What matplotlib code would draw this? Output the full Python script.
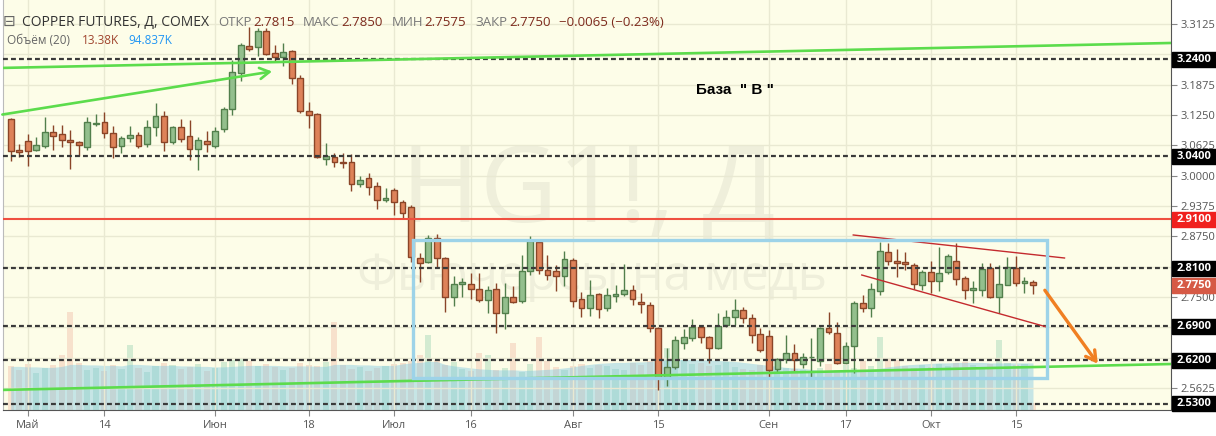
import matplotlib
matplotlib.use('Agg')
import matplotlib.pyplot as plt
from matplotlib.patches import Rectangle
from matplotlib.transforms import blended_transform_factory as btf

plt.rcParams['font.family'] = ['Open Sans', 'DejaVu Sans']

W, H, DPI = 1216, 436, 100

# ---------------- data (daily OHLC, bar index 0 = 27 Apr 2018) ----------------
opens = [3.116, 3.053, 3.071, 3.052, 3.061, 3.091, 3.085, 3.073, 3.069, 3.060,
         3.106, 3.111, 3.087, 3.061, 3.077, 3.083, 3.065, 3.100, 3.122, 3.069,
         3.101, 3.082, 3.055, 3.071, 3.062, 3.097, 3.137, 3.211, 3.267, 3.266,
         3.299, 3.252, 3.244, 3.256, 3.201, 3.134, 3.127, 3.034, 3.038, 3.028,
         3.028, 2.984, 2.995, 2.979, 2.950, 2.971, 2.946, 2.935, 2.830, 2.823,
         2.871, 2.830, 2.751, 2.777, 2.777, 2.766, 2.744, 2.766, 2.718, 2.751,
         2.742, 2.804, 2.864, 2.806, 2.803, 2.794, 2.826, 2.747, 2.727, 2.756,
         2.727, 2.752, 2.756, 2.764, 2.741, 2.733, 2.686, 2.585, 2.607, 2.655,
         2.665, 2.688, 2.667, 2.646, 2.693, 2.709, 2.724, 2.708, 2.675, 2.669,
         2.602, 2.622, 2.635, 2.612, 2.626, 2.619, 2.686, 2.677, 2.615, 2.650,
         2.737, 2.727, 2.763, 2.843, 2.824, 2.823, 2.816, 2.775, 2.801, 2.784,
         2.801, 2.824, 2.789, 2.764, 2.764, 2.810, 2.750, 2.776, 2.809, 2.779,
         2.7815]
highs = [3.119, 3.066, 3.086, 3.079, 3.120, 3.104, 3.105, 3.094, 3.072, 3.120,
         3.127, 3.131, 3.102, 3.082, 3.102, 3.090, 3.114, 3.149, 3.134, 3.103,
         3.117, 3.114, 3.079, 3.092, 3.101, 3.142, 3.238, 3.273, 3.306, 3.304,
         3.304, 3.269, 3.273, 3.258, 3.207, 3.151, 3.129, 3.068, 3.046, 3.046,
         3.044, 2.999, 3.006, 2.988, 2.975, 2.974, 2.950, 2.940, 2.840, 2.878,
         2.881, 2.832, 2.794, 2.789, 2.799, 2.800, 2.773, 2.779, 2.779, 2.773,
         2.836, 2.876, 2.870, 2.836, 2.817, 2.844, 2.830, 2.761, 2.785, 2.759,
         2.768, 2.775, 2.818, 2.775, 2.758, 2.741, 2.689, 2.645, 2.669, 2.684,
         2.706, 2.692, 2.670, 2.717, 2.724, 2.746, 2.729, 2.715, 2.686, 2.682,
         2.624, 2.673, 2.653, 2.634, 2.665, 2.688, 2.720, 2.699, 2.658, 2.742,
         2.754, 2.779, 2.864, 2.862, 2.849, 2.843, 2.821, 2.806, 2.825, 2.854,
         2.839, 2.862, 2.794, 2.783, 2.821, 2.821, 2.816, 2.832, 2.835, 2.792,
         2.785]
lows = [3.031, 3.039, 3.021, 3.051, 3.057, 3.053, 3.060, 3.014, 3.041, 3.054,
        3.103, 3.077, 3.036, 3.046, 3.070, 3.057, 3.060, 3.081, 3.050, 3.066,
        3.069, 3.033, 3.012, 3.048, 3.058, 3.091, 3.125, 3.195, 3.256, 3.247,
        3.249, 3.235, 3.225, 3.189, 3.130, 3.098, 3.036, 3.022, 3.019, 3.016,
        2.969, 2.976, 2.960, 2.932, 2.946, 2.920, 2.910, 2.823, 2.782, 2.820,
        2.813, 2.720, 2.732, 2.751, 2.747, 2.739, 2.718, 2.676, 2.685, 2.737,
        2.737, 2.795, 2.797, 2.785, 2.762, 2.772, 2.729, 2.710, 2.711, 2.708,
        2.721, 2.739, 2.752, 2.734, 2.717, 2.679, 2.559, 2.566, 2.603, 2.643,
        2.659, 2.655, 2.615, 2.643, 2.688, 2.693, 2.697, 2.656, 2.638, 2.586,
        2.593, 2.614, 2.596, 2.605, 2.586, 2.608, 2.675, 2.612, 2.614, 2.594,
        2.720, 2.710, 2.754, 2.816, 2.791, 2.806, 2.766, 2.764, 2.758, 2.762,
        2.797, 2.775, 2.746, 2.737, 2.752, 2.748, 2.718, 2.775, 2.772, 2.759,
        2.7575]
closes = [3.051, 3.048, 3.050, 3.064, 3.091, 3.081, 3.073, 3.069, 3.063, 3.110,
          3.108, 3.087, 3.059, 3.078, 3.083, 3.061, 3.100, 3.122, 3.069, 3.100,
          3.076, 3.055, 3.074, 3.065, 3.092, 3.137, 3.213, 3.269, 3.262, 3.299,
          3.251, 3.244, 3.254, 3.201, 3.134, 3.125, 3.039, 3.040, 3.028, 3.027,
          2.984, 2.992, 2.976, 2.950, 2.954, 2.946, 2.924, 2.833, 2.820, 2.871,
          2.830, 2.751, 2.777, 2.781, 2.767, 2.744, 2.765, 2.717, 2.751, 2.741,
          2.803, 2.866, 2.805, 2.796, 2.794, 2.828, 2.743, 2.727, 2.754, 2.725,
          2.754, 2.756, 2.765, 2.746, 2.736, 2.686, 2.585, 2.607, 2.662, 2.667,
          2.688, 2.667, 2.645, 2.691, 2.709, 2.724, 2.707, 2.673, 2.642, 2.600,
          2.622, 2.636, 2.620, 2.627, 2.627, 2.686, 2.678, 2.614, 2.650, 2.737,
          2.728, 2.766, 2.844, 2.825, 2.821, 2.818, 2.777, 2.802, 2.784, 2.800,
          2.835, 2.787, 2.764, 2.768, 2.808, 2.750, 2.777, 2.812, 2.779, 2.784,
          2.775]
volumes = [88, 80, 92, 75, 85, 90, 110, 198, 95, 80,
           85, 78, 90, 82, 131, 84, 76, 88, 95, 90,
           82, 86, 92, 78, 84, 96, 100, 105, 98, 88,
           92, 86, 80, 84, 95, 90, 88, 96, 178, 90,
           82, 86, 78, 84, 88, 92, 95, 98, 110, 152,
           100, 90, 96, 82, 78, 115, 110, 80, 84, 135,
           76, 92, 147, 98, 86, 80, 88, 92, 85, 90,
           88, 82, 80, 95, 90, 98, 112, 125, 110, 100,
           92, 95, 88, 90, 96, 86, 82, 80, 90, 95,
           100, 85, 82, 80, 78, 84, 92, 80, 90, 85,
           98, 88, 147, 105, 101, 88, 84, 90, 86, 92,
           88, 94, 96, 90, 84, 92, 141, 95, 90, 92,
           13.38]
volume_ma = [88, 88, 87, 87, 86, 86, 88, 92, 92, 91, 91, 90, 90, 89, 92, 92, 91, 90, 90, 90,
             89, 89, 88, 88, 87, 87, 88, 89, 90, 90, 90, 90, 89, 89, 89, 89, 88, 88, 92, 92,
             92, 91, 91, 90, 90, 90,
             93, 95, 96, 98, 98,
             92, 89, 87, 85, 83, 82, 81, 81,
             81, 80, 80, 81, 82, 83, 85, 87,
             90, 92, 94, 95, 96, 96, 97, 97, 98,
             100, 101, 102, 102, 102, 101, 101, 100, 99, 98,
             96, 94, 92, 90, 88, 86, 85, 84, 82,
             80, 79, 78, 78, 79, 80,
             82, 84, 87, 89, 91, 92, 93, 94, 95, 95, 96, 96, 96, 96, 95, 95, 95, 95, 95, 94.837]

tick_pos = [2, 11, 24, 35, 45, 54, 66, 76, 89, 98, 108, 118]
tick_labels = ['Май', '14', 'Июн', '18', 'Июл', '16', 'Авг', '15', 'Сен', '17', 'Окт', '15']
price_ticks = [2.5625, 2.625, 2.6875, 2.75, 2.8125, 2.875, 2.9375, 3.0, 3.0625, 3.125, 3.1875, 3.25, 3.3125]
level_lines = [3.24, 3.04, 2.81, 2.69, 2.62, 2.53]
red_level = 2.91
last_price = 2.775

# drawings (bar index, price)
green_line_top = [(-1.3, 3.2219), (136.2, 3.2734)]
green_arrow = [(-1.3, 3.1251), (31.0, 3.2157)]
green_line_bottom = [(-1.3, 2.5588), (136.2, 2.6123)]
wedge_upper = [(98.9, 2.8780), (123.7, 2.8306)]
wedge_lower = [(99.9, 2.7956), (121.6, 2.6886)]
orange_arrow = [(121.2, 2.7688), (127.8, 2.6082)]
base_box = (47.25, 121.7, 2.5835, 2.8677)

# ---------------- figure ----------------
fig = plt.figure(figsize=(W / DPI, H / DPI), dpi=DPI)
fig.patch.set_facecolor('white')
Lp, Rp, Tp, Bp = 3, 1171, 0, 410
rect = [Lp / W, 1 - Bp / H, (Rp - Lp) / W, (Bp - Tp) / H]
XLIM = (-0.904, 136.2)
YLIM = (2.5176, 3.3619)
BG = '#fdfde8'

axv = fig.add_axes(rect, zorder=0)
axv.set_facecolor(BG)
axv.set_xlim(XLIM)
axv.set_ylim(0, 827)
axv.set_xticks([])
axv.set_yticks([])
for s in axv.spines.values():
    s.set_visible(False)

idx = list(range(len(opens)))
vcol = ['#8fd0ad' if c >= o else '#eeb5a0' for o, c in zip(opens, closes)]
axv.bar(idx, volumes, width=0.72, color=vcol, alpha=0.38, zorder=2, linewidth=0)
axv.fill_between(idx, 0, volume_ma, color='#7cc6e2', alpha=0.42, lw=0, zorder=3)

axv.text(588 / W, 1 - 222 / H, 'HG1!, Д', transform=fig.transFigure, ha='center',
         va='baseline', fontsize=77, color='black', alpha=0.055, zorder=1)
axv.text(592 / W, 1 - 290 / H, 'Фьючерсы на медь', transform=fig.transFigure, ha='center',
         va='baseline', fontsize=36, color='black', alpha=0.055, zorder=1)

ax = fig.add_axes(rect, zorder=1)
ax.set_facecolor('none')
ax.set_xlim(XLIM)
ax.set_ylim(YLIM)

for t in tick_pos:
    ax.axvline(t, color='#e9e9d2', lw=1, zorder=0)
for p in price_ticks:
    ax.axhline(p, color='#e9e9d2', lw=1, zorder=0)

G_FILL, G_EDGE = '#93bf8d', '#527f4c'
R_FILL, R_EDGE = '#de8259', '#8a4528'
for i, (o, h, l, c) in enumerate(zip(opens, highs, lows, closes)):
    up = c >= o
    edge = G_EDGE if up else R_EDGE
    fill = G_FILL if up else R_FILL
    ax.vlines(i, l, h, color=edge, lw=1, zorder=3)
    ax.bar(i, max(abs(c - o), 0.0008), bottom=min(o, c), width=0.68,
           color=fill, edgecolor=edge, linewidth=1, zorder=4)

for p in level_lines:
    ax.axhline(p, color='#3a3a3a', lw=1.6, ls=(0, (2.2, 1.4)), zorder=5)
ax.axhline(red_level, color='#ef5040', lw=1.5, zorder=5)

GREEN = '#5cdc4c'
for seg in (green_line_top, green_line_bottom):
    ax.plot([seg[0][0], seg[1][0]], [seg[0][1], seg[1][1]], color=GREEN, lw=1.9,
            zorder=6, solid_capstyle='butt')
ax.annotate('', xy=green_arrow[1], xytext=green_arrow[0],
            arrowprops=dict(arrowstyle='->,head_length=0.7,head_width=0.4', color=GREEN, lw=1.9),
            zorder=6, annotation_clip=False)
for seg in (wedge_upper, wedge_lower):
    ax.plot([seg[0][0], seg[1][0]], [seg[0][1], seg[1][1]], color='#c42a2e', lw=1.0, zorder=6)
ax.annotate('', xy=orange_arrow[1], xytext=orange_arrow[0],
            arrowprops=dict(arrowstyle='->,head_length=0.7,head_width=0.4', color='#f07f22', lw=2.4),
            zorder=7, annotation_clip=False)
bx0, bx1, by0, by1 = base_box
ax.add_patch(Rectangle((bx0, by0), bx1 - bx0, by1 - by0, fill=False, ec='#9dd3e8', lw=2.4, zorder=6))

ax.text(80.5, 3.1766, 'База  " В "', family=['Liberation Sans', 'DejaVu Sans'],
        fontweight='bold', fontsize=11, va='center', ha='left', color='black', zorder=7)

# axes styling (labels hidden under the price boxes are left blank)
covered = {3.25, 2.8125, 2.6875, 2.625}
ax.yaxis.tick_right()
ax.set_yticks(price_ticks)
ax.set_yticklabels(['' if p in covered else f'{p:.4f}' for p in price_ticks])
ax.tick_params(axis='y', labelsize=8, labelcolor='#555555', length=4, color='#888888', pad=3)
ax.set_xticks(tick_pos)
ax.set_xticklabels(tick_labels)
ax.tick_params(axis='x', labelsize=8, labelcolor='#555555', length=4, color='#888888', pad=3)
ax.spines['top'].set_visible(False)
ax.spines['left'].set_color('#bbbbbb')
ax.spines['right'].set_color('#555555')
ax.spines['bottom'].set_color('#555555')

# price labels on the right axis
tr = btf(fig.transFigure, ax.transData)
hh = 7.5 / 485.6
labels = [(p, '#000000') for p in level_lines] + [(red_level, '#f0201e'), (last_price, '#d65a46')]
for p, col in labels:
    ax.add_patch(Rectangle((1172 / W, p - hh), 44 / W, 2 * hh, transform=tr, color=col,
                           clip_on=False, zorder=10))
    ax.text(1194 / W, p, f'{p:.4f}', transform=tr, ha='center', va='center', color='white',
            fontweight='bold', fontsize=8, zorder=11, clip_on=False)

# header, pieces placed one after another
renderer = fig.canvas.get_renderer()


def chain(x, y, parts):
    for s, gap, kw in parts:
        t = fig.text(x / W, 1 - y / H, s, va='baseline', **kw)
        bb = t.get_window_extent(renderer)
        x = bb.x1 + gap


VAL = '#7d2a1c'
LAB = '#777777'
chain(3, 26, [('⊟', 6, dict(fontsize=11, color='#666666', family=['DejaVu Sans'])),
              ('COPPER FUTURES, Д, COMEX', 10, dict(fontsize=10, color='#333333'))])
chain(218, 26, [('ОТКР', 1.5, dict(fontsize=9.5, color=LAB)),
                ('2.7815', 9, dict(fontsize=9.5, color=VAL)),
                ('МАКС', 1.5, dict(fontsize=9.5, color=LAB)),
                ('2.7850', 9, dict(fontsize=9.5, color=VAL)),
                ('МИН', 1.5, dict(fontsize=9.5, color=LAB)),
                ('2.7575', 9, dict(fontsize=9.5, color=VAL)),
                ('ЗАКР', 1.5, dict(fontsize=9.5, color=LAB)),
                ('2.7750', 9, dict(fontsize=9.5, color=VAL)),
                ('\u22120.0065 (\u22120.23%)', 0, dict(fontsize=9.5, color=VAL))])
chain(7, 44, [('Объём (20)', 12, dict(fontsize=8.5, color='#666666')),
              ('13.38K', 9, dict(fontsize=8.5, color='#a0452e')),
              ('94.837K', 0, dict(fontsize=8.5, color='#2196f3'))])

fig.savefig('out.png', dpi=DPI, facecolor='white')
